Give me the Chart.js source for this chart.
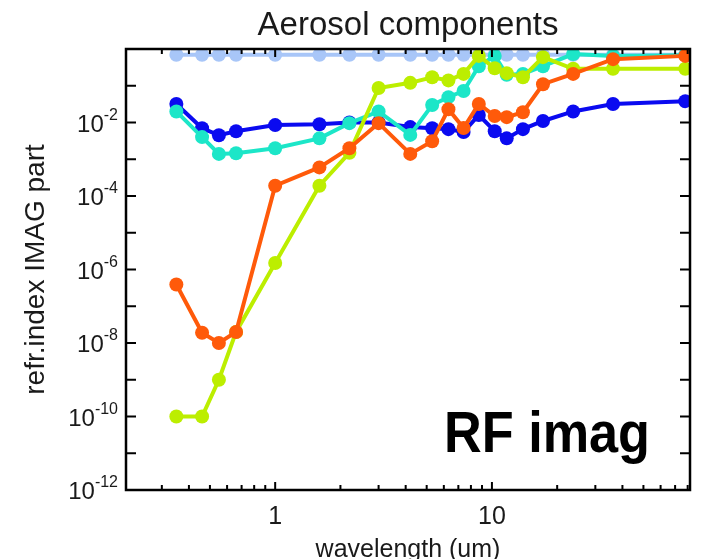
<!DOCTYPE html>
<html lang="en">
<head>
  <meta charset="UTF-8">
  <title>Aerosol components</title>
  <script src="https://cdn.jsdelivr.net/npm/chart.js"></script>
  <style>
    body {
      margin: 0;
      background: #ffffff;
    }
    .chart-container {
      position: relative;
      width: 701px;
      height: 559px;
    }
  </style>
</head>
<body>
  <div class="chart-container">
    <canvas id="rfImagChart"></canvas>
  </div>

  <script>
    // wavelength grid (um)
    const wavelengths = [0.35, 0.46, 0.55, 0.66, 1.0, 1.6, 2.2, 3.0, 4.2, 5.3, 6.3, 7.4, 8.7, 10.3, 11.7, 13.9, 17.2, 23.7, 36.2, 78];

    // imaginary part of refractive index per component
    const lightBlueSeries = [0.7, 0.7, 0.7, 0.7, 0.7, 0.7, 0.7, 0.7, 0.7, 0.7, 0.7, 0.7, 0.7, 0.7, 0.7, 0.7, 0.7, 0.7, 0.7, 0.7];
    const blueSeries = [3.2e-2, 7e-3, 4.5e-3, 5.8e-3, 8.5e-3, 9e-3, 1e-2, 1e-2, 7.5e-3, 7e-3, 6.6e-3, 5.5e-3, 1.6e-2, 5.8e-3, 3.7e-3, 6.6e-3, 1.1e-2, 2e-2, 3.2e-2, 3.8e-2];
    const cyanSeries = [2e-2, 4e-3, 1.4e-3, 1.45e-3, 2e-3, 3.7e-3, 9.6e-3, 2e-2, 4.6e-3, 3e-2, 4.9e-2, 7.2e-2, 0.34, 0.65, 0.2, 0.21, 0.34, 0.73, 0.65, 0.68];
    const orangeSeries = [3.9e-7, 1.9e-8, 1e-8, 2e-8, 1.9e-4, 6e-4, 2e-3, 9.6e-3, 1.4e-3, 3.1e-3, 2.3e-2, 7.1e-3, 3.2e-2, 1.5e-2, 1.4e-2, 1.9e-2, 0.11, 0.21, 0.53, 0.65];
    const greenSeries = [1e-10, 1e-10, 1e-9, 2e-8, 1.5e-6, 1.9e-4, 1.5e-3, 8.7e-2, 0.12, 0.17, 0.14, 0.21, 0.65, 0.3, 0.22, 0.17, 0.6, 0.29, 0.29, 0.29];

    // axis ticks
    const xTickValues = [1, 10];
    const xTickLabels = ['1', '10'];
    const yTickExponents = [-2, -4, -6, -8, -10, -12];

    const FONT = "'Liberation Sans', Arial, sans-serif";
    const TEXT = '#1a1a1a';

    const toPoints = (vals) => vals.map((v, i) => ({ x: wavelengths[i], y: v }));

    const series = (data, color) => ({
      data: toPoints(data),
      borderColor: color,
      backgroundColor: color,
      pointBackgroundColor: color,
    });

    // frame with inward ticks on all four sides, superscript y labels, "RF imag" tag
    const framePlugin = {
      id: 'frameAndTicks',
      afterDraw(chart) {
        const { ctx, chartArea: a, scales: { x, y } } = chart;
        ctx.save();
        ctx.strokeStyle = '#000';
        ctx.lineWidth = 2;
        ctx.beginPath();
        // x ticks: 0.3..0.9, 1, 2..9, 10, 20..80
        for (let d = 0.1; d <= 10; d *= 10) {
          for (let m = 1; m <= 9; m++) {
            const v = m * d;
            if (v < x.min || v > x.max) continue;
            const px = x.getPixelForValue(v);
            const len = m === 1 ? 8 : 5;
            ctx.moveTo(px, a.bottom); ctx.lineTo(px, a.bottom - len);
            ctx.moveTo(px, a.top); ctx.lineTo(px, a.top + len);
          }
        }
        // y ticks every decade
        for (let e = -11; e <= -1; e++) {
          const py = y.getPixelForValue(Math.pow(10, e));
          ctx.moveTo(a.left, py); ctx.lineTo(a.left + 10, py);
          ctx.moveTo(a.right, py); ctx.lineTo(a.right - 10, py);
        }
        ctx.stroke();

        ctx.lineWidth = 2.5;
        ctx.strokeRect(a.left, a.top, a.width, a.height);

        // y labels as 10 with superscript exponent
        ctx.fillStyle = TEXT;
        ctx.textBaseline = 'alphabetic';
        yTickExponents.forEach((e) => {
          const py = y.getPixelForValue(Math.pow(10, e));
          const expText = String(e);
          ctx.font = '16px ' + FONT;
          const expW = ctx.measureText(expText).width;
          const expX = a.left - 8 - expW;
          ctx.textAlign = 'left';
          ctx.fillText(expText, expX, py - 3);
          ctx.font = '24px ' + FONT;
          ctx.textAlign = 'right';
          ctx.fillText('10', expX, py + 9);
        });

        // annotation
        ctx.font = 'bold 58px ' + FONT;
        ctx.fillStyle = '#000';
        ctx.textAlign = 'right';
        ctx.translate(650, 452);
        ctx.scale(0.9, 1);
        ctx.fillText('RF imag', 0, 0);
        ctx.restore();
      }
    };

    const ctx = document.getElementById('rfImagChart').getContext('2d');

    new Chart(ctx, {
      type: 'line',
      data: {
        datasets: [
          series(orangeSeries, '#ff5a0a'),
          series(greenSeries, '#bcee00'),
          series(cyanSeries, '#1ce6c8'),
          series(blueSeries, '#0a0af0'),
          series(lightBlueSeries, '#a8c6f8'),
        ]
      },
      options: {
        responsive: true,
        maintainAspectRatio: false,
        animation: false,
        layout: { padding: { right: 11 } },
        elements: {
          line: { borderWidth: 4, tension: 0 },
          point: { radius: 7, borderWidth: 0, hoverRadius: 7 },
        },
        plugins: {
          legend: { display: false },
          tooltip: { enabled: false },
          title: {
            display: true,
            fullSize: false,
            text: 'Aerosol components',
            color: TEXT,
            font: { family: FONT, size: 33, weight: 'normal', lineHeight: 1.2 },
            padding: { top: 5.7, bottom: 3.7 },
          },
        },
        scales: {
          x: {
            type: 'logarithmic',
            position: 'bottom',
            min: 0.205,
            max: 82,
            grid: { display: false, drawTicks: false },
            border: { display: false },
            afterBuildTicks: (s) => { s.ticks = xTickValues.map((v) => ({ value: v })); },
            afterFit: (s) => { s.height = 69; },
            ticks: {
              autoSkip: false,
              maxRotation: 0,
              padding: 12,
              color: TEXT,
              font: { family: FONT, size: 25 },
              callback: (value, index) => xTickLabels[index],
            },
            title: {
              display: true,
              text: 'wavelength (um)',
              color: TEXT,
              font: { family: FONT, size: 25, lineHeight: 1 },
              padding: { top: 0, bottom: -4 },
            },
          },
          y: {
            type: 'logarithmic',
            min: 1e-12,
            max: 1,
            grid: { display: false, drawTicks: false },
            border: { display: false },
            ticks: { display: false },
            afterFit: (s) => { s.width = 126; },
            title: {
              display: true,
              text: 'refr.index IMAG part',
              color: TEXT,
              font: { family: FONT, size: 28, lineHeight: 1 },
              padding: { top: 22, bottom: 0 },
            },
          },
        },
      },
      plugins: [framePlugin],
    });
  </script>
</body>
</html>
